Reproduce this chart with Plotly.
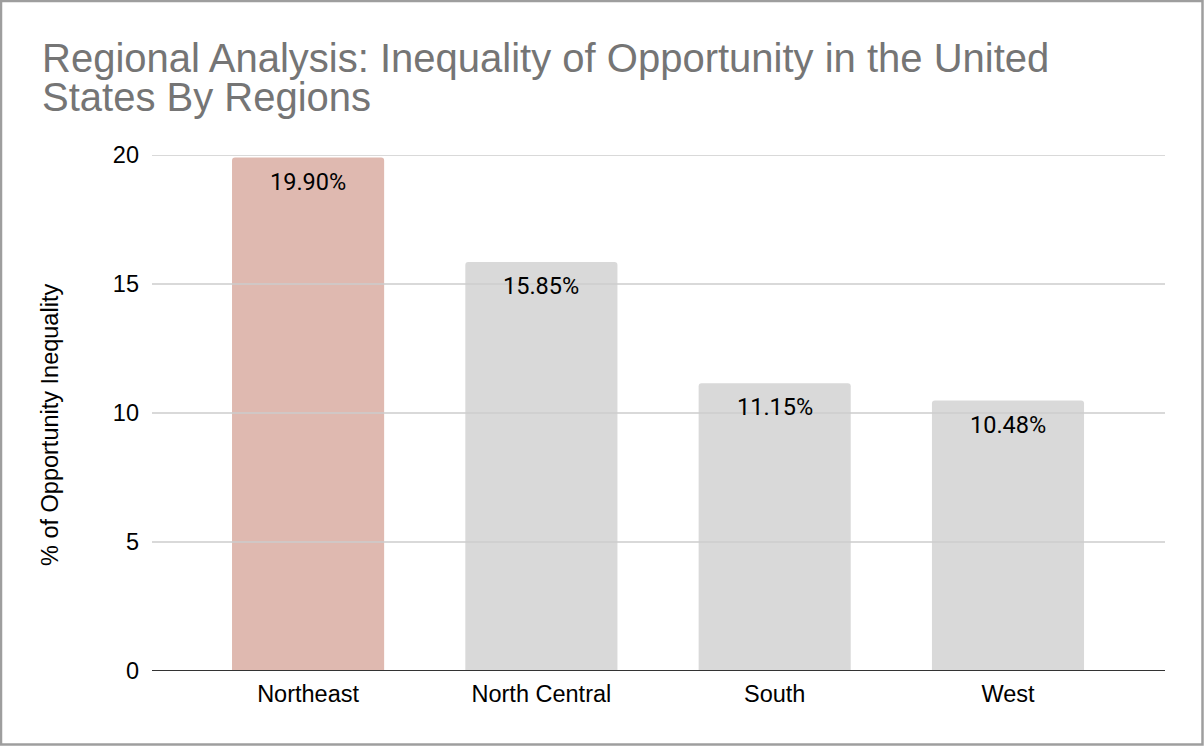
import plotly.graph_objects as go

# data
regions = ["Northeast", "North Central", "South", "West"]
inequality_pct = [19.90, 15.85, 11.15, 10.48]
bar_colors = ["#dfb9b0", "#d9d9d9", "#d9d9d9", "#d9d9d9"]
y_ticks = [0, 5, 10, 15, 20]
title_lines = ["Regional Analysis: Inequality of Opportunity in the United",
               "States By Regions"]
y_title = "% of Opportunity Inequality"

labels = ["%.2f%%" % v for v in inequality_pct]

W, H = 1204, 746
ML, MR, MT, MB = 152, 39, 155, 75
PW, PH = W - ML - MR, H - MT - MB

fig = go.Figure()
fig.add_trace(
    go.Bar(
        x=regions,
        y=inequality_pct,
        marker=dict(color=bar_colors, line=dict(width=0), cornerradius=3),
        hoverinfo="x+y",
    )
)

# value labels inside the top of each bar
for r, v, t in zip(regions, inequality_pct, labels):
    fig.add_annotation(
        x=r, y=v, text=t, showarrow=False,
        yanchor="middle", yshift=-24,
        font=dict(family="Roboto", size=23.5, color="#000000"),
    )

# two-line title, placed by hand to get the tight line spacing
for i, line in enumerate(title_lines):
    fig.add_annotation(
        xref="paper", yref="paper",
        x=(40 - ML) / PW, y=1 + (MT - (58 + 39 * i)) / PH,
        xanchor="left", yanchor="middle",
        text=line, showarrow=False,
        font=dict(family="Liberation Sans, Arial", size=40, color="#757575"),
    )

# y axis title
fig.add_annotation(
    xref="paper", yref="paper",
    x=(50 - ML) / PW, y=1 - (425 - MT) / PH,
    xanchor="center", yanchor="middle", textangle=-90,
    text=y_title, showarrow=False,
    font=dict(family="Liberation Sans, Arial", size=23.5, color="#000000"),
)

fig.update_layout(
    width=W,
    height=H,
    paper_bgcolor="white",
    plot_bgcolor="white",
    margin=dict(l=ML, r=MR, t=MT, b=MB),
    bargap=0.348,
    showlegend=False,
    font=dict(family="Liberation Sans, Arial", size=23.5, color="#000000"),
)

fig.update_xaxes(
    range=[-0.669, 3.673],
    showgrid=False,
    showline=False,
    ticks="",
    ticklabelstandoff=6,
    tickfont=dict(size=23.5, color="#000000"),
)
fig.update_yaxes(
    range=[0, 20],
    tickvals=y_ticks,
    showgrid=False,
    zeroline=False,
    ticks="",
    ticklabelstandoff=12,
    tickfont=dict(size=23.5, color="#000000"),
)

# gridlines are drawn over the bars in the reference
for v in y_ticks:
    fig.add_shape(
        type="line", xref="paper", yref="y", x0=0, x1=1, y0=v, y1=v,
        line=dict(color="#333333" if v == 0 else "#cccccc", width=2 if v == 0 else 1.5),
        layer="above",
    )

# outer grey frame
fig.add_shape(
    type="rect", xref="paper", yref="paper",
    x0=(-ML + 1) / PW, x1=1 + (MR - 1.5) / PW, y0=(-MB + 1.5) / PH, y1=1 + (MT - 1) / PH,
    line=dict(color="#9e9e9e", width=2.5), layer="above",
)

fig.write_html(
    "out.html",
    config={"displayModeBar": False},
    post_script="document.body.style.margin='0px';",
)
